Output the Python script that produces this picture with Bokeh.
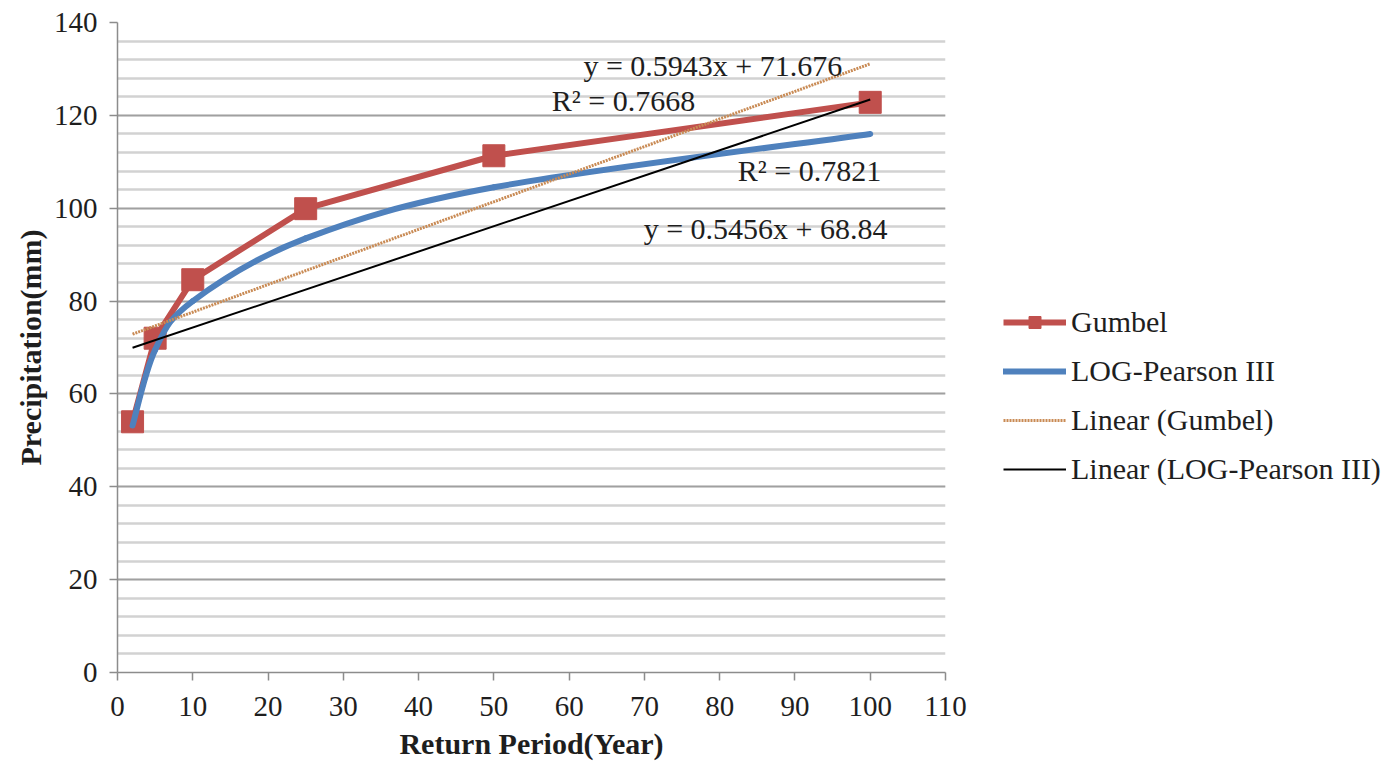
import numpy as np
from bokeh.plotting import figure
from bokeh.models import Range1d, FixedTicker, Legend, LegendItem, Label, ColumnDataSource
from bokeh.embed import file_html
from bokeh.resources import INLINE

# ---- data ----
return_period = [2, 5, 10, 25, 50, 100]
gumbel = [54.0, 72.0, 84.6, 99.9, 111.3, 122.8]
log_pearson = [53.2, 69.5, 80.0, 93.5, 104.5, 116.0]
gumbel_slope, gumbel_icpt = 0.5943, 71.676
lp_slope, lp_icpt = 0.5456, 68.84
gumbel_eq = "y = 0.5943x + 71.676"
gumbel_r2 = "R² = 0.7668"
lp_eq = "y = 0.5456x + 68.84"
lp_r2 = "R² = 0.7821"
x_ticks = list(range(0, 111, 10))
y_ticks = list(range(0, 141, 20))
y_minor = list(range(0, 141, 4))
series_names = ["Gumbel", "LOG-Pearson III", "Linear (Gumbel)", "Linear (LOG-Pearson III)"]

FONT = "Liberation Serif"
TXT = "#1e1e1e"

p = figure(frame_width=828, frame_height=650, output_backend="svg", toolbar_location=None,
           x_range=Range1d(0, 110), y_range=Range1d(0, 140),
           min_border_left=117, min_border_right=0, min_border_top=22,
           min_border_bottom=86)
p.outline_line_color = None
p.background_fill_color = "white"

# axes
p.xaxis.ticker = FixedTicker(ticks=x_ticks)
p.yaxis.ticker = FixedTicker(ticks=y_ticks, minor_ticks=y_minor)
for ax in (p.xaxis[0], p.yaxis[0]):
    ax.axis_line_color = "#8c8c8c"
    ax.axis_line_width = 1.5
    ax.major_tick_line_color = "#8c8c8c"
    ax.major_tick_line_width = 1.5
    ax.major_tick_out = 8
    ax.major_tick_in = 0
    ax.minor_tick_line_color = None
    ax.major_label_text_font = FONT
    ax.major_label_text_font_size = "29px"
    ax.major_label_text_color = TXT
    ax.major_label_text_line_height = 1.0
    ax.axis_label_text_font = FONT
    ax.axis_label_text_font_style = "bold"
    ax.axis_label_text_font_size = "30px"
    ax.axis_label_text_color = TXT
    ax.axis_label_text_line_height = 1.0
p.xaxis.major_label_standoff = 16
p.yaxis.major_label_standoff = 12
p.xaxis.axis_label = "Return Period(Year)"
p.yaxis.axis_label = "Precipitation(mm)"
p.xaxis.axis_label_standoff = 8
p.yaxis.axis_label_standoff = 4

# grid
p.xgrid.grid_line_color = None
p.ygrid.grid_line_color = "#a0a0a0"
p.ygrid.grid_line_width = 1.5
p.ygrid.minor_grid_line_color = "#d2d2d2"
p.ygrid.minor_grid_line_width = 2.5

# Gumbel series
src_g = ColumnDataSource(dict(x=return_period, y=gumbel))
r_g_line = p.line("x", "y", source=src_g, line_color="#c0504d", line_width=6, line_join="round")
r_g_mark = p.scatter("x", "y", source=src_g, marker="square", size=22,
                     fill_color="#c0504d", line_color="#c0504d")

# LOG-Pearson III smoothed curve (Catmull-Rom style bezier through the points)
xs = np.array(return_period, dtype=float)
ys = np.array(log_pearson, dtype=float)
n = len(xs)
px = np.concatenate([[xs[0]], xs, [xs[-1]]])
py = np.concatenate([[ys[0]], ys, [ys[-1]]])
x0, y0, x1, y1, cx0, cy0, cx1, cy1 = [], [], [], [], [], [], [], []
for i in range(n - 1):
    a = i + 1
    b = i + 2
    x0.append(px[a]); y0.append(py[a]); x1.append(px[b]); y1.append(py[b])
    cx0.append(px[a] + (px[b] - px[a - 1]) / 6.0)
    cy0.append(py[a] + (py[b] - py[a - 1]) / 6.0)
    cx1.append(px[b] - (px[b + 1] - px[a]) / 6.0)
    cy1.append(py[b] - (py[b + 1] - py[a]) / 6.0)
src_lp = ColumnDataSource(dict(x0=x0, y0=y0, x1=x1, y1=y1, cx0=cx0, cy0=cy0, cx1=cx1, cy1=cy1))
r_lp = p.bezier(x0="x0", y0="y0", x1="x1", y1="y1", cx0="cx0", cy0="cy0", cx1="cx1", cy1="cy1",
                source=src_lp, line_color="#4f81bd", line_width=6, line_cap="round")

# trend lines
tx = [min(return_period), max(return_period)]
r_tg = p.line(tx, [gumbel_slope * v + gumbel_icpt for v in tx], line_color="#c98b55",
              line_width=3, line_dash="2 1")
r_tl = p.line(tx, [lp_slope * v + lp_icpt for v in tx], line_color="black", line_width=2)

legend = Legend(items=[
    LegendItem(label=series_names[0], renderers=[r_g_line, r_g_mark]),
    LegendItem(label=series_names[1], renderers=[r_lp]),
    LegendItem(label=series_names[2], renderers=[r_tg]),
    LegendItem(label=series_names[3], renderers=[r_tl]),
], location=(58, 186))
legend.border_line_color = None
legend.background_fill_alpha = 0
legend.label_text_font = FONT
legend.label_text_font_size = "30px"
legend.label_text_color = TXT
legend.glyph_width = 63
legend.glyph_height = 30
legend.spacing = 15
legend.label_standoff = 5
legend.padding = 0
legend.margin = 0
p.add_layout(legend, "right")

# equation labels
def lab(x, y, t):
    p.add_layout(Label(x=x, y=y, text=t, text_font=FONT, text_font_size="30px",
                       text_color=TXT, text_baseline="middle", text_align="left"))

lab(61.9, 130.7, gumbel_eq)
lab(57.7, 123.2, gumbel_r2)
lab(82.4, 108.1, lp_r2)
lab(69.9, 95.6, lp_eq)

open("out.html", "w").write(file_html(p, INLINE))
